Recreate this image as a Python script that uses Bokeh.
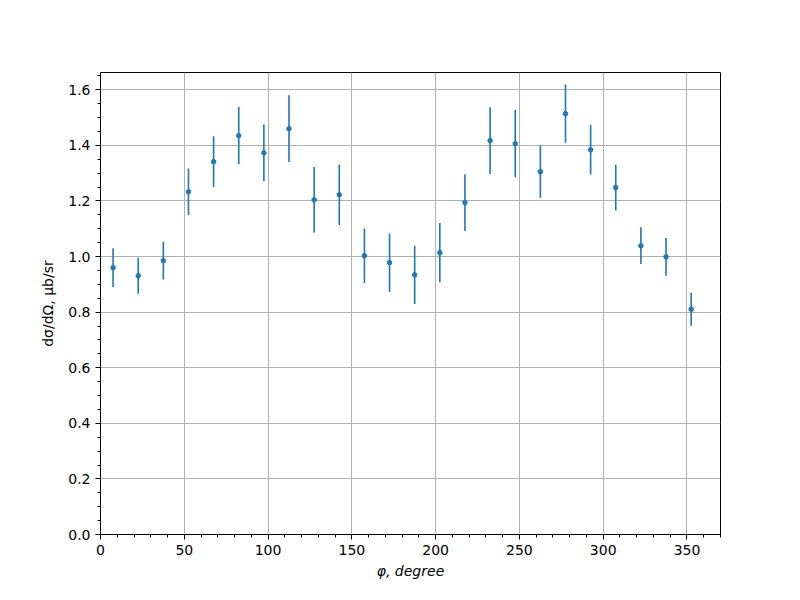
from bokeh.plotting import figure
from bokeh.models import Range1d, SingleIntervalTicker, NumeralTickFormatter
from bokeh.embed import file_html
from bokeh.resources import INLINE

phi = [7.5, 22.5, 37.5, 52.5, 67.5, 82.5, 97.5, 112.5, 127.5, 142.5, 157.5, 172.5,
       187.5, 202.5, 217.5, 232.5, 247.5, 262.5, 277.5, 292.5, 307.5, 322.5, 337.5, 352.5]
xsec = [0.960, 0.931, 0.985, 1.233, 1.341, 1.435, 1.373, 1.460, 1.204, 1.222, 1.003, 0.978,
        0.934, 1.014, 1.194, 1.417, 1.406, 1.305, 1.514, 1.384, 1.248, 1.039, 0.999, 0.810]
err = [0.070, 0.065, 0.068, 0.084, 0.092, 0.103, 0.102, 0.120, 0.118, 0.109, 0.098, 0.105,
       0.105, 0.107, 0.102, 0.120, 0.121, 0.094, 0.105, 0.089, 0.082, 0.066, 0.068, 0.059]

lo = [v - e for v, e in zip(xsec, err)]
hi = [v + e for v, e in zip(xsec, err)]

p = figure(frame_width=620, frame_height=462, output_backend="svg", toolbar_location=None,
           x_range=Range1d(0, 370), y_range=Range1d(0, 1.662),
           min_border_left=100, min_border_right=64, min_border_top=72, min_border_bottom=50)
p.background_fill_color = "white"
p.border_fill_color = "white"
p.outline_line_color = "black"
p.outline_line_width = 1

color = "#1f77b4"
p.segment(x0=phi, y0=lo, x1=phi, y1=hi, line_color=color, line_width=1.6)
p.scatter(x=phi, y=xsec, size=4.5, fill_color=color, line_color=color)

p.xaxis.ticker = SingleIntervalTicker(interval=50, num_minor_ticks=5)
p.yaxis.ticker = SingleIntervalTicker(interval=0.2, num_minor_ticks=4)
p.yaxis.formatter = NumeralTickFormatter(format="0.0")
p.xaxis.formatter = NumeralTickFormatter(format="0")

for ax in (p.xaxis, p.yaxis):
    ax.axis_line_color = "black"
    ax.major_tick_line_color = "black"
    ax.minor_tick_line_color = "black"
    ax.major_tick_in = 0
    ax.major_tick_out = 5
    ax.minor_tick_in = 0
    ax.minor_tick_out = 3
    ax.major_label_text_font = "DejaVu Sans"
    ax.major_label_text_font_size = "14px"
    ax.major_label_text_color = "black"
    ax.axis_label_text_font = "DejaVu Sans"
    ax.axis_label_text_font_size = "14px"
    ax.axis_label_text_color = "black"

p.xaxis.axis_label = "φ, degree"
p.xaxis.axis_label_text_font_style = "italic"
p.xaxis.axis_label_standoff = 5
p.yaxis.axis_label = "dσ/dΩ, μb/sr"
p.yaxis.axis_label_text_font_style = "normal"
p.yaxis.axis_label_standoff = 9

p.xgrid.grid_line_color = "#b0b0b0"
p.ygrid.grid_line_color = "#b0b0b0"
p.xgrid.grid_line_width = 1
p.ygrid.grid_line_width = 1

open("out.html", "w").write(file_html(p, INLINE))
